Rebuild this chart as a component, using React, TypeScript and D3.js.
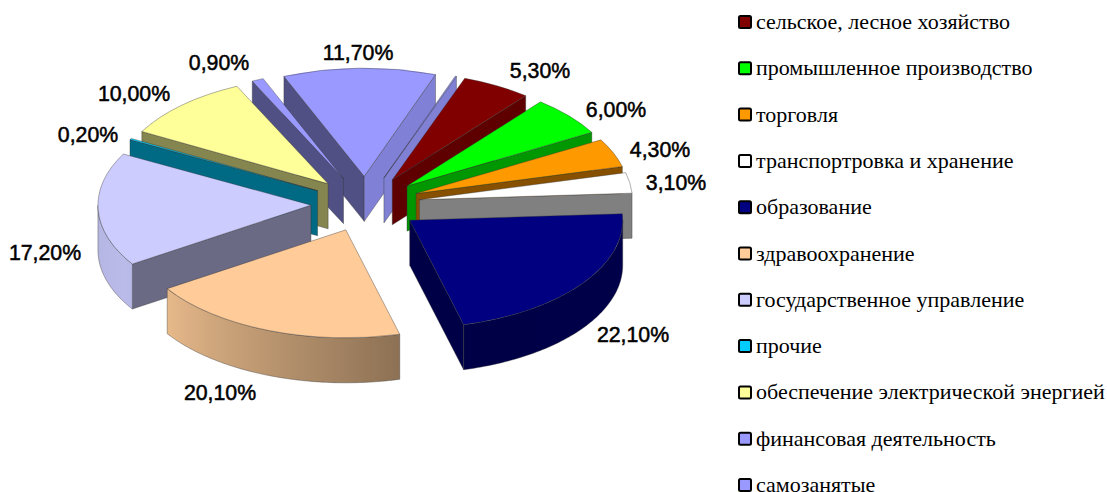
import React from "react";
import * as d3 from "d3";

const legendNames = [
  "сельское, лесное хозяйство",
  "промышленное производство",
  "торговля",
  "транспортровка и хранение",
  "образование",
  "здравоохранение",
  "государственное управление",
  "прочие",
  "обеспечение электрической энергией",
  "финансовая деятельность",
  "самозанятые",
];
// last slice is the unlabeled sliver visible right of "самозанятые"
const sliceValues = [5.3, 6.0, 4.3, 3.1, 22.1, 20.1, 17.2, 0.2, 10.0, 0.9, 11.7, 0.1];
const sliceColors = ["#800000", "#00ff00", "#ff9900", "#ffffff", "#000080", "#ffcc99", "#ccccff", "#00ccff", "#ffff99", "#9999ff", "#9999ff", "#9999ff"];
const labelTexts = ["5,30%", "6,00%", "4,30%", "3,10%", "22,10%", "20,10%", "17,20%", "0,20%", "10,00%", "0,90%", "11,70%"];
const labelX = [540, 616, 660, 676, 633, 220, 45, 88, 134, 219, 358];
const labelY = [71, 110, 150, 183, 335, 393, 253, 135, 94, 63, 53];

const W = 1107, H = 492;
const CX = 365.5, CY = 204, R = 213, K = 0.507, DEPTH = 45, EXPLODE = 54.6;
const START = (19.9 * Math.PI) / 180;
const legendTop = 22, legendStep = 46.3, legendX = 738.5, legendTextX = 756;

const shade = (c: string, f: number) => {
  const r = d3.rgb(c);
  return d3.rgb(r.r * f, r.g * f, r.b * f).formatHex();
};
const outerShade = d3.scaleLinear().domain([90, 165, 240, 270]).range([0.58, 0.55, 0.92, 0.88]).clamp(true);
const endShade = (deg: number) => {
  const d = ((deg % 360) + 360) % 360;
  if (d > 90) return 0.55;
  const c = Math.cos((d * Math.PI) / 180);
  return 0.5 + 0.38 * c * c;
};
const line = d3.line<[number, number]>().curve(d3.curveLinear);
const EDGE = "rgba(50,50,50,0.55)";

export default function App() {
  const arcs = d3.pie<number>().sort(null).startAngle(START).endAngle(START + 2 * Math.PI)(sliceValues);
  const slices = arcs.map((a, i) => {
    const mid = (a.startAngle + a.endAngle) / 2;
    const ax = CX + EXPLODE * Math.sin(mid);
    const ay = CY - EXPLODE * K * Math.cos(mid);
    return { a, i, mid, ax, ay, color: sliceColors[i] };
  });
  const order = [...slices].sort((p, q) => Math.cos(q.mid) - Math.cos(p.mid));
  const arcGen = d3.arc<any>().innerRadius(0).outerRadius(R);
  return (
    <svg width={W} height={H} viewBox={`0 0 ${W} ${H}`} style={{ position: "absolute", left: 0, top: 0, background: "#fff" }}>
      <defs>
        {slices.map((s) => {
          const from = Math.max((s.a.startAngle * 180) / Math.PI, 90);
          const to = Math.min((s.a.endAngle * 180) / Math.PI, 270);
          if (to <= from) return null;
          const px = (d: number) => s.ax + R * Math.sin((d * Math.PI) / 180);
          const t = d3.range(0, 1.01, 0.125).map((f) => from + (to - from) * f);
          const x1 = px(from), x2 = px(to);
          return (
            <linearGradient key={s.i} id={`og${s.i}`} gradientUnits="userSpaceOnUse" x1={x1} x2={x2} y1={0} y2={0}>
              {t.map((d, j) => (
                <stop key={j} offset={x2 === x1 ? 0 : (px(d) - x1) / (x2 - x1)} stopColor={shade(s.color, outerShade(d))} />
              ))}
            </linearGradient>
          );
        })}
      </defs>
      {order.map((s) => {
        const a0 = s.a.startAngle, a1 = s.a.endAngle;
        const P = (t: number, dz = 0): [number, number] => [s.ax + R * Math.sin(t), s.ay - R * K * Math.cos(t) + dz];
        const wall = (t: number) => {
          const p = P(t);
          const o: [number, number] = [s.ax, s.ay];
          return line([o, p, [p[0], p[1] + DEPTH], [o[0], o[1] + DEPTH]])! + "Z";
        };
        const d0 = (a0 * 180) / Math.PI, d1 = (a1 * 180) / Math.PI;
        const from = Math.max(d0, 90), to = Math.min(d1, 270);
        let outer: string | null = null;
        if (to > from) {
          const n = Math.max(4, Math.ceil(to - from));
          const ts = d3.range(n + 1).map((j) => ((from + ((to - from) * j) / n) * Math.PI) / 180);
          const pts = [...ts.map((t) => P(t)), ...[...ts].reverse().map((t) => P(t, DEPTH))];
          outer = line(pts)! + "Z";
        }
        return (
          <g key={s.i}>
            {Math.sin(a0) < 0 && <path d={wall(a0)} fill={shade(s.color, 0.52)} stroke={EDGE} strokeWidth={0.7} />}
            {Math.sin(a1) > 0 && <path d={wall(a1)} fill={shade(s.color, endShade(d1))} stroke={EDGE} strokeWidth={0.7} />}
            {outer && <path d={outer} fill={`url(#og${s.i})`} stroke={EDGE} strokeWidth={0.7} />}
            <path
              d={arcGen({ startAngle: a0, endAngle: a1 })!}
              transform={`translate(${s.ax},${s.ay}) scale(1,${K})`}
              fill={s.color}
              stroke={EDGE}
              strokeWidth={0.7}
              vectorEffect="non-scaling-stroke"
            />
          </g>
        );
      })}
      {labelTexts.map((t, i) => (
        <text
          key={i}
          x={labelX[i]}
          y={labelY[i]}
          textAnchor="middle"
          dominantBaseline="central"
          fontFamily="'Liberation Sans', Arial, sans-serif"
          fontSize={21.3}
          fill="#000"
          stroke="#000"
          strokeWidth={0.5}
        >
          {t}
        </text>
      ))}
      {legendNames.map((n, i) => {
        const y = legendTop + i * legendStep;
        return (
          <g key={n}>
            <rect x={legendX + 0.5} y={y - 6} width={12} height={12} rx={1.5} fill={sliceColors[i]} stroke="#000" strokeWidth={2} />
            <text x={legendTextX} y={y + 7} fontFamily="'Liberation Serif', 'Times New Roman', serif" fontSize={22} fill="#000">
              {n}
            </text>
          </g>
        );
      })}
    </svg>
  );
}
